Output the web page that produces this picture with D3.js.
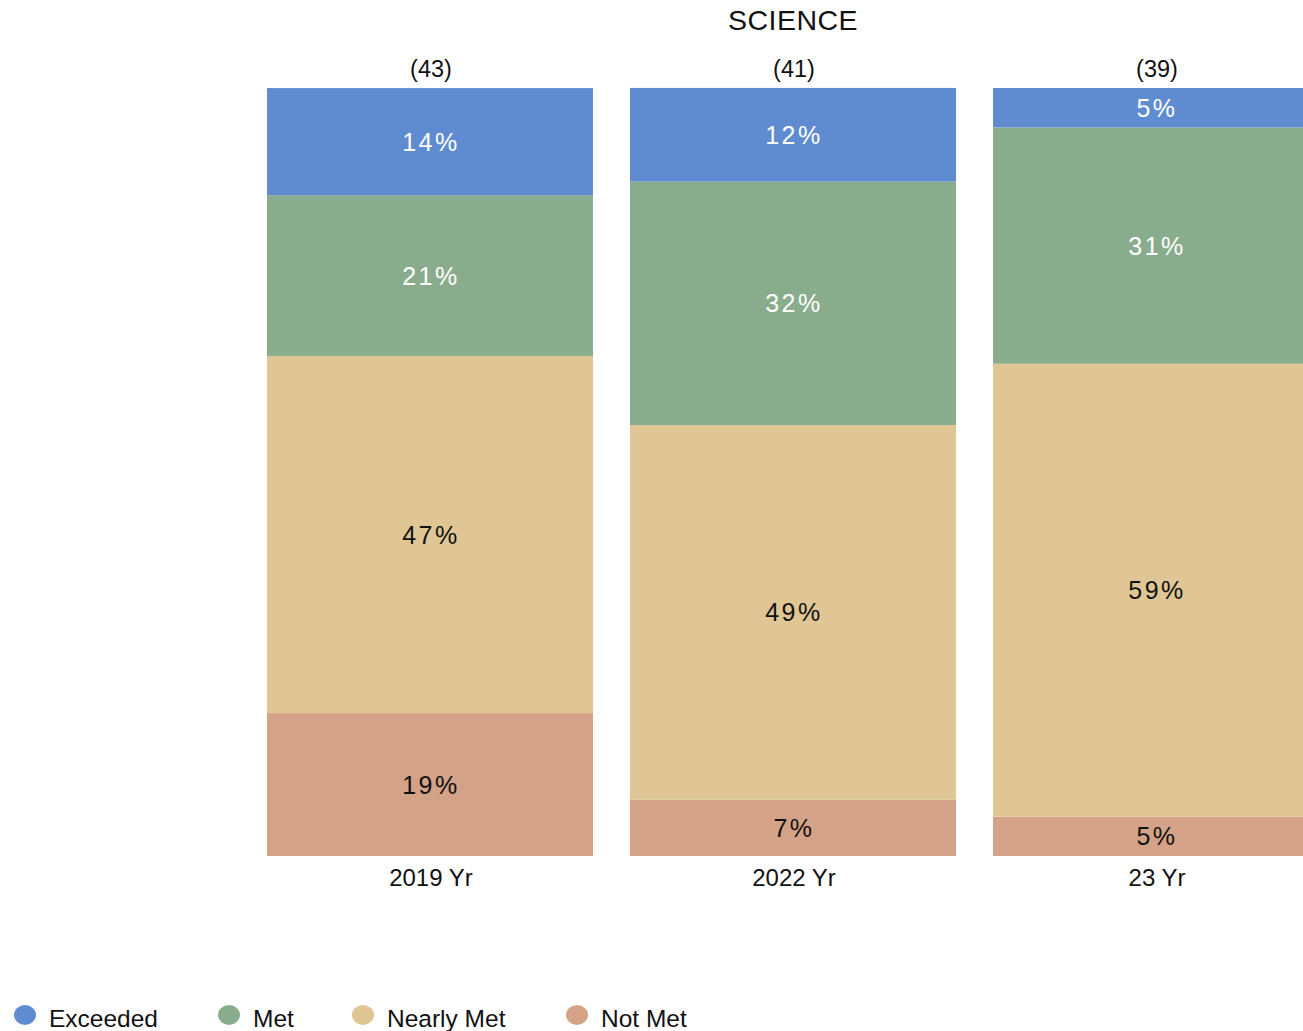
<!DOCTYPE html>
<html><head><meta charset="utf-8">
<script src="https://cdn.jsdelivr.net/npm/d3@7"></script>
<style>body{margin:0;background:#fff;} svg{display:block;font-family:"Liberation Sans",Arial,sans-serif;}</style>
</head><body>
<svg id="c" width="1303" height="1031"></svg>
<script>
const title = "SCIENCE";
const categories = ["2019 Yr", "2022 Yr", "23 Yr"];
const counts = ["(43)", "(41)", "(39)"];
const seriesNames = ["Not Met", "Nearly Met", "Met", "Exceeded"];
const exceeded = [13.95, 12.20, 5.13];
const met = [20.93, 31.71, 30.77];
const nearlyMet = [46.51, 48.78, 58.97];
const notMet = [18.60, 7.32, 5.13];
const labelExceeded = ["14%", "12%", "5%"];
const labelMet = ["21%", "32%", "31%"];
const labelNearlyMet = ["47%", "49%", "59%"];
const labelNotMet = ["19%", "7%", "5%"];
const legendNames = ["Exceeded", "Met", "Nearly Met", "Not Met"];

const colors = {"Exceeded":"#5f8bd0","Met":"#89ad8c","Nearly Met":"#dfc694","Not Met":"#d4a286"};
const textColors = {"Exceeded":"#ffffff","Met":"#ffffff","Nearly Met":"#111111","Not Met":"#111111"};
const valuesBySeries = {"Exceeded":exceeded,"Met":met,"Nearly Met":nearlyMet,"Not Met":notMet};
const labelsBySeries = {"Exceeded":labelExceeded,"Met":labelMet,"Nearly Met":labelNearlyMet,"Not Met":labelNotMet};

const rows = categories.map((c,i)=>{
  const r = {cat:c};
  seriesNames.forEach(s=> r[s] = valuesBySeries[s][i]);
  return r;
});
const stack = d3.stack().keys(seriesNames)(rows);

const svg = d3.select("#c");
const x = d3.scaleBand().domain(categories).range([267,1319]).paddingInner(0.102).paddingOuter(0);
const y = d3.scaleLinear().domain([0,100]).range([856,88]);

svg.append("text").attr("x",793).attr("y",30).attr("text-anchor","middle")
  .attr("font-size",28.5).attr("letter-spacing","0.5px").attr("fill","#111").text(title);

const g = svg.append("g");
stack.forEach(layer=>{
  const key = layer.key;
  g.selectAll(null).data(layer).enter().append("rect")
    .attr("x",d=>x(d.data.cat)).attr("width",x.bandwidth())
    .attr("y",d=>y(d[1])).attr("height",d=>y(d[0])-y(d[1]))
    .attr("fill",colors[key]);
  g.selectAll(null).data(layer).enter().append("text")
    .attr("x",d=>x(d.data.cat)+x.bandwidth()/2+1)
    .attr("y",d=>(y(d[0])+y(d[1]))/2)
    .attr("dy","0.36em").attr("text-anchor","middle")
    .attr("font-size",25).attr("letter-spacing","2.5px")
    .attr("fill",textColors[key])
    .text((d,i)=>labelsBySeries[key][i]);
});

// counts above
svg.selectAll(null).data(categories).enter().append("text")
  .attr("x",d=>x(d)+x.bandwidth()/2+1).attr("y",77).attr("text-anchor","middle")
  .attr("font-size",23.5).attr("fill","#111").text((d,i)=>counts[i]);

// x axis labels
const xAxis = d3.axisBottom(x).tickSize(0).tickPadding(0);
const ax = svg.append("g").attr("transform","translate(0,856)").call(xAxis);
ax.select(".domain").remove();
ax.selectAll("text").attr("font-size",24).attr("fill","#111").attr("dx",1)
  .attr("font-family","Liberation Sans, Arial, sans-serif").attr("dy",null).attr("y",30);

// legend
const legX = [25,229,363,577];
const leg = svg.append("g");
legendNames.forEach((n,i)=>{
  leg.append("ellipse").attr("cx",legX[i]).attr("cy",1015).attr("rx",11).attr("ry",10).attr("fill",colors[n]);
  leg.append("text").attr("x",legX[i]+24).attr("y",1027).attr("font-size",24.5).attr("fill","#111").text(n);
});
</script>
</body></html>
